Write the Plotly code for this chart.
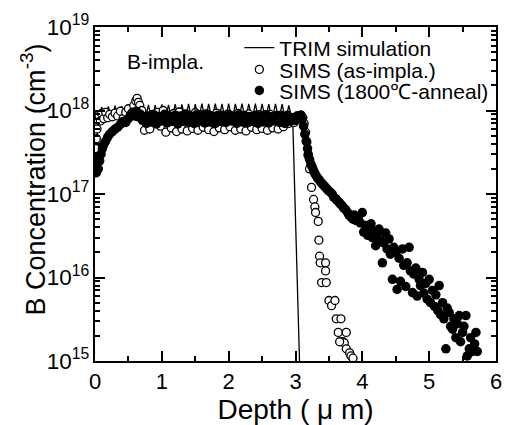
import plotly.graph_objects as go

# ---------------- data ----------------
# TRIM simulation line (depth in um, concentration in cm^-3)
trim_x = [0.03, 0.04, 0.05, 0.10, 0.15, 0.20, 0.25, 0.30, 0.35, 0.40, 0.45,
          0.50, 0.55, 0.60, 0.65, 0.70, 0.75, 0.80, 0.85, 0.90, 0.95,
          1.00, 1.05, 1.10, 1.15, 1.20, 1.25, 1.30, 1.35, 1.40, 1.45,
          1.50, 1.55, 1.60, 1.65, 1.70, 1.75, 1.80, 1.85, 1.90, 1.95,
          2.00, 2.05, 2.10, 2.15, 2.20, 2.25, 2.30, 2.35, 2.40, 2.45,
          2.50, 2.55, 2.60, 2.65, 2.70, 2.75, 2.80, 2.85, 2.90, 2.96,
          3.06, 3.07]
trim_y = [3.0e17, 8.5e17, 7.6e17, 1.10e18, 7.8e17, 1.12e18, 7.6e17, 1.14e18, 7.7e17, 1.13e18, 7.5e17,
          1.15e18, 7.8e17, 1.16e18, 7.6e17, 1.15e18, 7.7e17, 1.17e18, 7.5e17, 1.16e18, 7.8e17,
          1.18e18, 7.6e17, 1.17e18, 7.7e17, 1.19e18, 7.5e17, 1.18e18, 7.8e17, 1.20e18, 7.6e17,
          1.19e18, 7.7e17, 1.21e18, 7.5e17, 1.20e18, 7.8e17, 1.21e18, 7.6e17, 1.20e18, 7.7e17,
          1.21e18, 7.5e17, 1.20e18, 7.8e17, 1.21e18, 7.6e17, 1.20e18, 7.7e17, 1.21e18, 7.5e17,
          1.20e18, 7.8e17, 1.19e18, 7.6e17, 1.20e18, 7.7e17, 1.19e18, 7.5e17, 1.15e18, 7.0e17,
          1.0e15, 8.0e14]

# SIMS as-implanted (open circles)
asimp_x = [0.00, 0.01, 0.02, 0.03, 0.04, 0.06, 0.08, 0.10, 0.13, 0.16, 0.19, 0.22, 0.26, 0.30,
           0.34, 0.38, 0.42, 0.46, 0.50, 0.54, 0.58, 0.61, 0.63, 0.65, 0.67, 0.70, 0.74, 0.78,
           0.82, 0.86, 0.90, 0.94, 0.98, 1.02, 1.06, 1.10, 1.14, 1.18, 1.22, 1.26, 1.30, 1.34,
           1.38, 1.42, 1.46, 1.50, 1.54, 1.58, 1.62, 1.66, 1.70, 1.74, 1.78, 1.82, 1.86, 1.90,
           1.94, 1.98, 2.02, 2.06, 2.10, 2.14, 2.18, 2.22, 2.26, 2.30, 2.34, 2.38, 2.42, 2.46,
           2.50, 2.54, 2.58, 2.62, 2.66, 2.70, 2.74, 2.78, 2.82, 2.86, 2.90, 2.94, 2.98, 3.02,
           3.05, 3.08, 3.11, 3.13, 3.15, 3.17, 3.19, 3.21, 3.24, 3.27, 3.29, 3.30, 3.34, 3.35,
           3.36, 3.37, 3.45, 3.45, 3.39, 3.46, 3.50, 3.54, 3.59, 3.61, 3.68, 3.64, 3.71, 3.76,
           3.73, 3.66, 3.76, 3.81, 3.83, 3.86]
asimp_y = [2.6e17, 3.5e17, 4.6e17, 6.0e17, 7.8e17, 8.8e17, 7.5e17, 9.2e17, 8.0e17, 9.5e17, 8.2e17, 9.0e17, 8.4e17, 9.3e17,
           8.6e17, 9.8e17, 8.0e17, 9.5e17, 1.05e18, 9.0e17, 1.15e18, 1.30e18, 1.40e18, 1.25e18, 1.15e18, 1.00e18, 5.8e17, 8.5e17,
           6.0e17, 9.0e17, 7.0e17, 9.5e17, 6.5e17, 1.00e18, 5.5e17, 8.8e17, 6.2e17, 9.2e17, 5.6e17, 9.6e17, 6.0e17, 9.0e17,
           5.7e17, 8.6e17, 6.1e17, 9.4e17, 5.8e17, 8.9e17, 6.3e17, 9.1e17, 5.9e17, 8.7e17, 5.6e17, 9.3e17, 6.2e17, 8.8e17,
           5.9e17, 9.0e17, 6.4e17, 8.6e17, 5.8e17, 9.2e17, 6.0e17, 8.7e17, 5.7e17, 9.1e17, 6.3e17, 8.5e17, 5.9e17, 8.9e17,
           6.1e17, 8.6e17, 5.8e17, 9.0e17, 6.2e17, 8.4e17, 6.0e17, 8.8e17, 6.4e17, 8.2e17, 7.0e17, 8.0e17, 7.2e17, 8.6e17,
           8.0e17, 8.8e17, 8.2e17, 7.0e17, 5.5e17, 4.2e17, 3.0e17, 2.0e17, 1.2e17, 8.6e16, 7.0e16, 6.0e16, 4.7e16, 2.8e16,
           1.8e16, 1.5e16, 1.5e16, 1.2e16, 8.7e15, 8.7e15, 5.3e15, 4.6e15, 5.3e15, 3.2e15, 3.2e15, 2.2e15, 1.7e15, 2.2e15,
           1.65e15, 1.7e15, 1.4e15, 1.25e15, 1.15e15, 1.08e15]

# SIMS after 1800 C anneal (filled circles)
anneal_x = [0.00, 0.00, 0.01, 0.02, 0.02, 0.03, 0.04, 0.05, 0.07, 0.09, 0.11, 0.13, 0.16, 0.19,
            0.22, 0.26, 0.30, 0.34, 0.38, 0.42, 0.46, 0.50, 0.53, 0.56, 0.59, 0.62, 0.65, 0.68,
            0.71, 0.74, 0.77, 0.80, 0.84, 0.88, 0.92, 0.96, 1.00, 1.04, 1.08, 1.12, 1.16, 1.20,
            1.24, 1.28, 1.32, 1.36, 1.40, 1.44, 1.48, 1.52, 1.56, 1.60, 1.64, 1.68, 1.72, 1.76,
            1.80, 1.84, 1.88, 1.92, 1.96, 2.00, 2.04, 2.08, 2.12, 2.16, 2.20, 2.24, 2.28, 2.32,
            2.36, 2.40, 2.44, 2.48, 2.52, 2.56, 2.60, 2.64, 2.68, 2.72, 2.76, 2.80, 2.84, 2.88,
            2.92, 2.96, 3.00, 3.04,
            3.08, 3.10, 3.12, 3.14, 3.16, 3.18, 3.19, 3.21, 3.23, 3.25, 3.27, 3.29, 3.31, 3.33,
            3.35, 3.37, 3.39, 3.41, 3.43, 3.45, 3.47, 3.49, 3.52, 3.55, 3.57, 3.60, 3.62, 3.65,
            3.67, 3.70, 3.72, 3.75, 3.78, 3.80, 3.83, 3.86, 3.88, 3.91, 3.94, 3.97, 4.00, 4.02,
            4.05, 4.08, 4.10, 4.13, 4.15, 4.17, 4.20, 4.22, 4.25, 4.27, 4.30, 4.32, 4.35, 4.37,
            4.40, 4.42, 4.45, 4.47, 4.50, 4.52, 4.55, 4.57, 4.60, 4.62, 4.65, 4.67, 4.70, 4.72,
            4.75, 4.77, 4.80, 4.82, 4.85, 4.87, 4.90, 4.92, 4.95, 4.97, 5.00, 5.02, 5.05, 5.08,
            5.10, 5.13, 5.15, 5.17, 5.20, 5.22, 5.25, 5.27, 5.30, 5.32, 5.35, 5.37, 5.40, 5.42,
            5.45, 5.47, 5.50, 5.52, 5.55, 5.57, 5.60, 5.62, 5.65, 5.68, 5.70, 5.72]
anneal_y = [2.0e17, 2.8e17, 2.6e17, 1.8e17, 2.3e17, 2.0e17, 2.8e17, 2.0e17, 2.5e17, 3.0e17, 3.5e17, 3.9e17, 4.3e17, 4.8e17,
            5.2e17, 5.6e17, 6.0e17, 6.3e17, 6.8e17, 7.4e17, 7.2e17, 8.0e17, 8.8e17, 9.5e17, 8.6e17, 9.8e17, 8.4e17, 9.0e17,
            7.6e17, 8.3e17, 7.0e17, 8.6e17, 7.3e17, 8.9e17, 6.9e17, 8.4e17, 7.5e17, 9.0e17, 7.1e17, 8.5e17, 7.4e17, 8.8e17,
            6.9e17, 8.6e17, 7.6e17, 9.1e17, 7.2e17, 8.4e17, 7.0e17, 8.9e17, 7.5e17, 8.7e17, 7.1e17, 9.0e17, 7.3e17, 8.5e17,
            7.0e17, 8.8e17, 7.4e17, 8.6e17, 7.2e17, 9.0e17, 7.5e17, 8.4e17, 7.0e17, 8.9e17, 7.3e17, 8.7e17, 7.1e17, 8.5e17,
            7.4e17, 8.8e17, 7.0e17, 8.6e17, 7.3e17, 8.9e17, 7.1e17, 8.4e17, 7.5e17, 8.7e17, 7.2e17, 8.5e17, 7.0e17, 8.8e17,
            7.4e17, 8.2e17, 7.6e17, 8.6e17,
            8.8e17, 7.8e17, 6.5e17, 5.2e17, 4.3e17, 3.5e17, 2.9e17, 2.6e17, 2.3e17, 2.1e17, 1.9e17, 1.75e17, 1.65e17, 1.55e17,
            1.5e17, 1.42e17, 1.35e17, 1.3e17, 1.25e17, 1.2e17, 1.15e17, 1.1e17, 1.05e17, 1.0e17, 9.2e16, 8.8e16, 8.4e16, 8.0e16,
            7.6e16, 7.2e16, 6.8e16, 6.5e16, 6.0e16, 5.6e16, 5.3e16, 5.0e16, 5.6e16, 4.8e16, 5.2e16, 4.5e16, 6.0e16, 3.5e16,
            4.2e16, 3.2e16, 3.9e16, 4.4e16, 3.0e16, 3.6e16, 2.4e16, 3.3e16, 3.8e16, 2.8e16, 1.5e16, 2.6e16, 3.4e16, 2.2e16,
            2.9e16, 1.9e16, 9.5e15, 2.3e16, 2.0e16, 7.2e15, 1.7e16, 9.0e15, 2.2e16, 1.4e16, 7.8e15, 1.5e16, 2.3e16, 1.2e16,
            6.6e15, 1.1e16, 1.3e16, 6.0e15, 9.5e15, 8.0e15, 1.15e16, 6.5e15, 8.5e15, 5.5e15, 9.5e15, 5.0e15, 7.0e15, 4.5e15,
            6.2e15, 4.0e15, 8.0e15, 3.6e15, 5.0e15, 3.2e15, 1.4e15, 4.3e15, 3.8e15, 2.6e15, 2.4e15, 3.2e15, 1.9e15, 2.8e15,
            3.5e15, 1.7e15, 2.2e15, 2.6e15, 3.5e15, 1.15e15, 1.4e15, 1.9e15, 1.3e15, 1.6e15, 2.2e15, 1.3e15]

series_names = ["TRIM simulation", "SIMS (as-impla.)", "SIMS (1800℃-anneal)"]
x_title = "Depth ( μ m)"
y_title = "B Concentration (cm<sup>-3</sup>)"
sample_label = "B-impla."

FONT = "Liberation Sans, Arial, Helvetica, sans-serif"

fig = go.Figure()
fig.add_trace(go.Scatter(x=trim_x, y=trim_y, mode="lines", name=series_names[0],
                         line=dict(color="black", width=1.3), legend="legend", showlegend=True))
fig.add_trace(go.Scatter(x=asimp_x, y=asimp_y, mode="markers", name=series_names[1],
                         marker=dict(symbol="circle", size=8, color="white",
                                     line=dict(color="black", width=1.3)),
                         legend="legend2", showlegend=True))
fig.add_trace(go.Scatter(x=anneal_x, y=anneal_y, mode="markers", name=series_names[2],
                         marker=dict(symbol="circle", size=9.5, color="black",
                                     line=dict(color="black", width=0)),
                         legend="legend3", showlegend=True))

leg_common = dict(x=0.36, xanchor="left", yanchor="middle", bgcolor="rgba(0,0,0,0)",
                  borderwidth=0, font=dict(family=FONT, size=21, color="black"))

axis_common = dict(showline=True, linewidth=2, linecolor="black", mirror="allticks",
                   ticks="inside", ticklen=10, tickwidth=1.5, tickcolor="black",
                   showgrid=False, zeroline=False)

fig.update_layout(
    width=511, height=425,
    margin=dict(l=95, r=9, t=27, b=63),
    paper_bgcolor="white", plot_bgcolor="white",
    font=dict(family=FONT, color="black"),
    showlegend=True,
    legend=dict(y=0.937, **leg_common),
    legend2=dict(y=0.872, **leg_common),
    legend3=dict(y=0.809, **leg_common),
    xaxis=dict(range=[0, 6], dtick=1, tick0=0,
               tickfont=dict(family=FONT, size=22, color="black"),
               minor=dict(ticks="inside", ticklen=5, tickwidth=1.5, dtick=0.5, tickcolor="black"),
               title=dict(text=x_title, font=dict(family=FONT, size=28), standoff=2),
               **axis_common),
    yaxis=dict(type="log", range=[15, 19], dtick=1, exponentformat="power",
               tickfont=dict(family=FONT, size=18, color="black"),
               minor=dict(ticks="inside", ticklen=5, tickwidth=1.5, dtick="D1", tickcolor="black"),
               **axis_common),
    annotations=[
        dict(text=sample_label, xref="paper", yref="paper", x=0.074, y=0.896,
             xanchor="left", yanchor="middle", showarrow=False,
             font=dict(family=FONT, size=21, color="black")),
        dict(text=y_title, xref="paper", yref="paper", x=-0.155, y=0.543,
             xanchor="center", yanchor="middle", showarrow=False, textangle=-90,
             font=dict(family=FONT, size=27, color="black")),
    ],
)

fig.write_html("out.html")
